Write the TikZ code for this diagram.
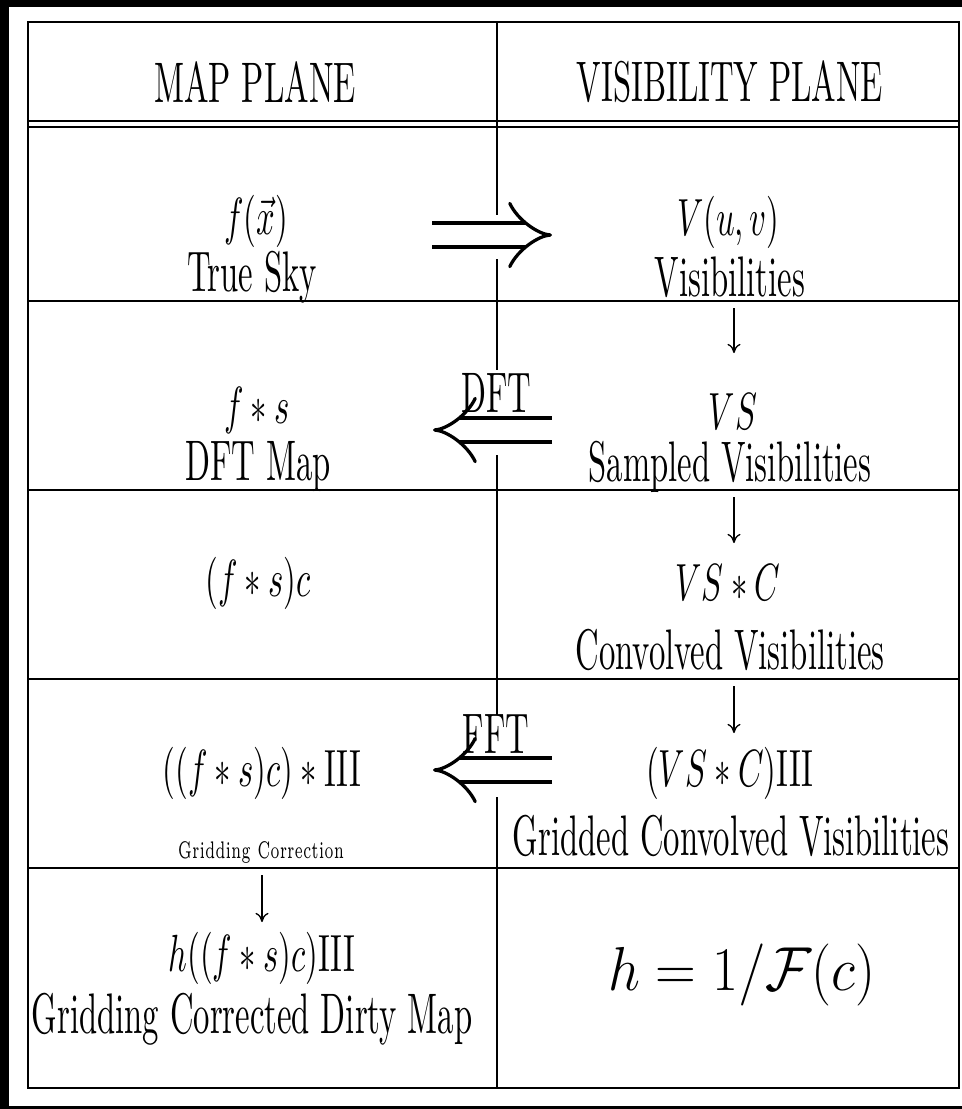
\documentclass[tikz,border=0pt]{standalone}
\usepackage{amsmath,amssymb}
\usetikzlibrary{arrows.meta}

\tikzset{
  cell/.style={inner sep=0pt,transform shape,yscale=1.75},
  mathcell/.style={inner sep=0pt,transform shape,yscale=1.6},
  rule/.style={line width=0.4pt},
  frame/.style={line width=0.65pt},
  bigarr/.style={double,line width=1pt,double distance=6.3pt,-{Implies}},
  downarr/.style={line width=0.4pt,-{To[length=2.8pt,width=4pt]}}
}

\begin{document}
\begin{tikzpicture}[x=0.306pt,y=0.306pt]
    \useasboundingbox (0,0) rectangle (962,-1109);
    % black margin round the page
    \fill[black] (0,0) rectangle (962,-1109);
    \fill[white] (9,-7) rectangle (962,-1106);

    % table rules
    \draw[frame] (28,-22) rectangle (959,-1088);
    \draw[frame] (28,-121) -- (959,-121);
    \draw[frame] (28,-127) -- (959,-127);
    \foreach \y in {301,490,679,868}
      \draw[rule] (28,-\y) -- (959,-\y);
    \draw[rule] (497,-22) -- (497,-215);
    \draw[rule] (497,-259) -- (497,-370);
    \draw[rule] (497,-455) -- (497,-715);
    \draw[rule] (497,-797) -- (497,-1088);

    % header
    \node[cell] (maphead) at (255,-82) {MAP PLANE};
    \node[cell] (vishead) at (730,-82) {VISIBILITY PLANE};

    % row 1
    \node[mathcell] (sky) at (256,-221) {$f(\vec{x})$};
    \node[cell] (skylbl) at (252,-277) {True Sky};
    \node[mathcell] (vis) at (728,-222) {$V(u,v)$};
    \node[cell] (vislbl) at (730,-277) {Visibilities};
    \coordinate (ft1a) at (432,-235);
    \coordinate (ft1b) at (552,-235);
    \draw[bigarr] (ft1a) -- (ft1b);

    % row 2
    \coordinate (d1a) at (734,-308);
    \coordinate (d1b) at (734,-353);
    \draw[downarr] (d1a) -- (d1b);
    \node[mathcell] (dirty) at (257,-410) {$f*s$};
    \node[cell] (dirtylbl) at (258,-467) {DFT Map};
    \node[mathcell] (samp) at (733,-412) {$VS$};
    \node[cell] (samplbl) at (730,-467) {Sampled Visibilities};
    \node[cell] (dft) at (496,-393) {DFT};
    \coordinate (ft2a) at (552,-430);
    \coordinate (ft2b) at (433,-430);
    \draw[bigarr] (ft2a) -- (ft2b);

    % row 3
    \coordinate (d2a) at (734,-497);
    \coordinate (d2b) at (734,-543);
    \draw[downarr] (d2a) -- (d2b);
    \node[mathcell] (corr) at (258,-583) {$(f*s)c$};
    \node[mathcell] (conv) at (728,-583) {$VS*C$};
    \node[cell] (convlbl) at (730,-650) {Convolved Visibilities};

    % row 4
    \coordinate (d3a) at (734,-686);
    \coordinate (d3b) at (734,-733);
    \draw[downarr] (d3a) -- (d3b);
    \node[mathcell] (gridmap) at (262,-773) {$((f*s)c)*\mathrm{III}$};
    \node[cell,font=\tiny,xscale=0.84,yscale=0.84] (gridcorr) at (261,-852) {Gridding Correction};
    \node[mathcell] (grid) at (730,-773) {$(VS*C)\mathrm{III}$};
    \node[cell] (gridlbl) at (731,-836) {Gridded Convolved Visibilities};
    \node[cell] (fft) at (496,-734) {FFT};
    \coordinate (ft3a) at (552,-770);
    \coordinate (ft3b) at (433,-770);
    \draw[bigarr] (ft3a) -- (ft3b);

    % row 5
    \coordinate (d4a) at (262,-875);
    \coordinate (d4b) at (262,-922);
    \draw[downarr] (d4a) -- (d4b);
    \node[mathcell] (final) at (262,-958) {$h((f*s)c)\mathrm{III}$};
    \node[cell] (finallbl) at (252,-1019) {Gridding Corrected Dirty Map};
    \node[inner sep=0pt,transform shape,yscale=1.1,font=\fontsize{16}{19}\selectfont] (hdef) at (742,-975) {$h=1/\mathcal{F}(c)$};
  \end{tikzpicture}
\end{document}
